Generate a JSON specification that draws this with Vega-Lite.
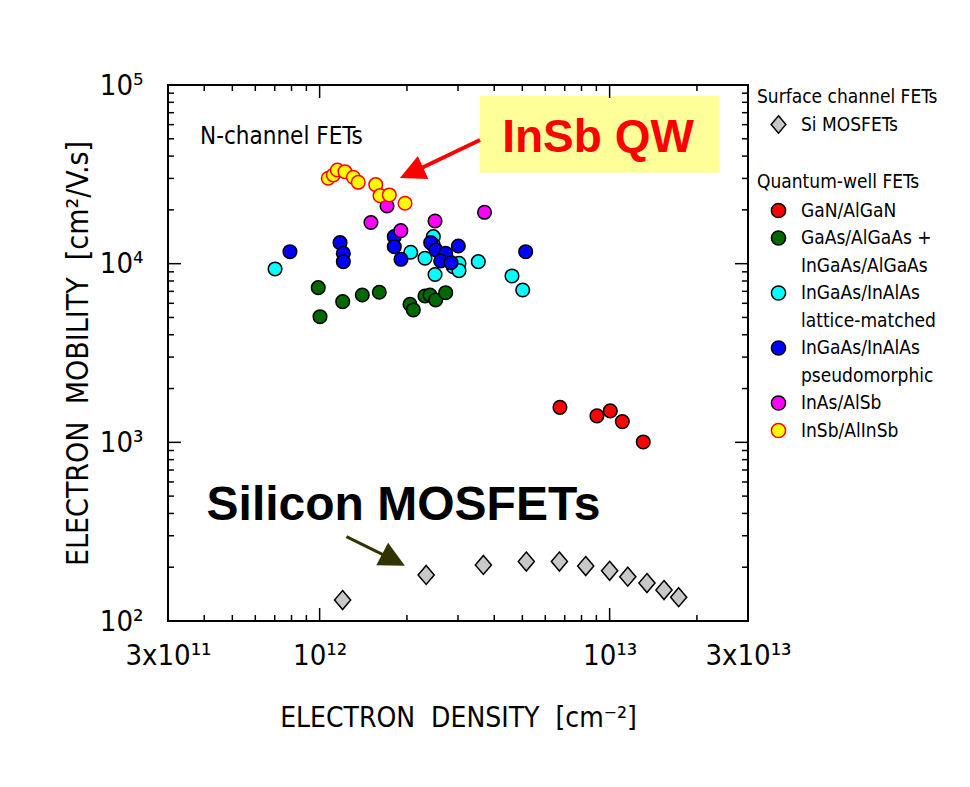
{
  "$schema": "https://vega.github.io/schema/vega-lite/v6.json",
  "width": 580,
  "height": 536,
  "autosize": "none",
  "padding": {"left": 168, "top": 85, "right": 222, "bottom": 166},
  "background": "white",
  "config": {
    "view": {"stroke": "black", "strokeWidth": 2},
    "font": "DejaVu Sans Condensed, DejaVu Sans, sans-serif",
    "axis": {"domain": false, "grid": false, "ticks": false, "tickSize": 0, "labelColor": "black", "titleColor": "black", "labelFont": "DejaVu Sans Condensed, DejaVu Sans, sans-serif", "titleFont": "DejaVu Sans Condensed, DejaVu Sans, sans-serif", "titleFontWeight": "normal", "labelOverlap": false, "labelFlush": false, "labelBound": false},
    "legend": {"orient": "right", "offset": 6, "padding": 3, "titleFont": "DejaVu Sans Condensed, DejaVu Sans, sans-serif", "titleFontSize": 19, "titleFontWeight": "normal", "titleColor": "black", "titleLimit": 300, "labelFont": "DejaVu Sans Condensed, DejaVu Sans, sans-serif", "labelFontSize": 19, "labelColor": "black", "symbolStrokeWidth": 1.5, "rowPadding": 6.5, "titlePadding": 9, "symbolOffset": 12, "labelOffset": 13, "labelLimit": 300}
  },
  "datasets": {
    "si": [
      {"type": "Si MOSFETs", "n": 1.20e12, "mu": 131},
      {"type": "Si MOSFETs", "n": 2.33e12, "mu": 181},
      {"type": "Si MOSFETs", "n": 3.67e12, "mu": 206},
      {"type": "Si MOSFETs", "n": 5.16e12, "mu": 215},
      {"type": "Si MOSFETs", "n": 6.71e12, "mu": 215},
      {"type": "Si MOSFETs", "n": 8.27e12, "mu": 203},
      {"type": "Si MOSFETs", "n": 1.00e13, "mu": 191},
      {"type": "Si MOSFETs", "n": 1.155e13, "mu": 177},
      {"type": "Si MOSFETs", "n": 1.345e13, "mu": 163},
      {"type": "Si MOSFETs", "n": 1.54e13, "mu": 149},
      {"type": "Si MOSFETs", "n": 1.73e13, "mu": 136}
    ],
    "qw": [
      {"series": "GaN/AlGaN", "n": 6.74e12, "mu": 1570},
      {"series": "GaN/AlGaN", "n": 9.04e12, "mu": 1406},
      {"series": "GaN/AlGaN", "n": 1.005e13, "mu": 1499},
      {"series": "GaN/AlGaN", "n": 1.106e13, "mu": 1306},
      {"series": "GaN/AlGaN", "n": 1.306e13, "mu": 1005},
      {"series": "GaAs/AlGaAs + InGaAs/AlGaAs", "n": 9.89e11, "mu": 7340},
      {"series": "GaAs/AlGaAs + InGaAs/AlGaAs", "n": 1.003e12, "mu": 5050},
      {"series": "GaAs/AlGaAs + InGaAs/AlGaAs", "n": 1.201e12, "mu": 6130},
      {"series": "GaAs/AlGaAs + InGaAs/AlGaAs", "n": 1.403e12, "mu": 6680},
      {"series": "GaAs/AlGaAs + InGaAs/AlGaAs", "n": 1.606e12, "mu": 6920},
      {"series": "GaAs/AlGaAs + InGaAs/AlGaAs", "n": 2.049e12, "mu": 5925},
      {"series": "GaAs/AlGaAs + InGaAs/AlGaAs", "n": 2.104e12, "mu": 5508},
      {"series": "GaAs/AlGaAs + InGaAs/AlGaAs", "n": 2.308e12, "mu": 6595},
      {"series": "GaAs/AlGaAs + InGaAs/AlGaAs", "n": 2.402e12, "mu": 6680},
      {"series": "GaAs/AlGaAs + InGaAs/AlGaAs", "n": 2.513e12, "mu": 6265},
      {"series": "GaAs/AlGaAs + InGaAs/AlGaAs", "n": 2.721e12, "mu": 6880},
      {"series": "InGaAs/InAlAs lattice-matched", "n": 7.02e11, "mu": 9340},
      {"series": "InGaAs/InAlAs lattice-matched", "n": 2.061e12, "mu": 11580},
      {"series": "InGaAs/InAlAs lattice-matched", "n": 2.308e12, "mu": 10720},
      {"series": "InGaAs/InAlAs lattice-matched", "n": 2.466e12, "mu": 14160},
      {"series": "InGaAs/InAlAs lattice-matched", "n": 2.466e12, "mu": 12720},
      {"series": "InGaAs/InAlAs lattice-matched", "n": 2.5e12, "mu": 8700},
      {"series": "InGaAs/InAlAs lattice-matched", "n": 2.89e12, "mu": 9620},
      {"series": "InGaAs/InAlAs lattice-matched", "n": 3.024e12, "mu": 10050},
      {"series": "InGaAs/InAlAs lattice-matched", "n": 3.024e12, "mu": 9140},
      {"series": "InGaAs/InAlAs lattice-matched", "n": 3.525e12, "mu": 10260},
      {"series": "InGaAs/InAlAs lattice-matched", "n": 4.606e12, "mu": 8535},
      {"series": "InGaAs/InAlAs lattice-matched", "n": 5.015e12, "mu": 7124},
      {"series": "InGaAs/InAlAs pseudomorphic", "n": 7.9e11, "mu": 11670},
      {"series": "InGaAs/InAlAs pseudomorphic", "n": 1.176e12, "mu": 13110},
      {"series": "InGaAs/InAlAs pseudomorphic", "n": 1.207e12, "mu": 11430},
      {"series": "InGaAs/InAlAs pseudomorphic", "n": 1.207e12, "mu": 10260},
      {"series": "InGaAs/InAlAs pseudomorphic", "n": 1.809e12, "mu": 14160},
      {"series": "InGaAs/InAlAs pseudomorphic", "n": 1.809e12, "mu": 12450},
      {"series": "InGaAs/InAlAs pseudomorphic", "n": 1.908e12, "mu": 10580},
      {"series": "InGaAs/InAlAs pseudomorphic", "n": 2.415e12, "mu": 13110},
      {"series": "InGaAs/InAlAs pseudomorphic", "n": 2.519e12, "mu": 11930},
      {"series": "InGaAs/InAlAs pseudomorphic", "n": 2.721e12, "mu": 11430},
      {"series": "InGaAs/InAlAs pseudomorphic", "n": 2.615e12, "mu": 10350},
      {"series": "InGaAs/InAlAs pseudomorphic", "n": 2.838e12, "mu": 10130},
      {"series": "InGaAs/InAlAs pseudomorphic", "n": 3.008e12, "mu": 12560},
      {"series": "InGaAs/InAlAs pseudomorphic", "n": 5.135e12, "mu": 11670},
      {"series": "InAs/AlSb", "n": 1.708e12, "mu": 21030},
      {"series": "InAs/AlSb", "n": 1.503e12, "mu": 17000},
      {"series": "InAs/AlSb", "n": 1.905e12, "mu": 15300},
      {"series": "InAs/AlSb", "n": 2.5e12, "mu": 17330},
      {"series": "InAs/AlSb", "n": 3.703e12, "mu": 19390},
      {"series": "InSb/AlInSb", "n": 1.071e12, "mu": 30060},
      {"series": "InSb/AlInSb", "n": 1.115e12, "mu": 31360},
      {"series": "InSb/AlInSb", "n": 1.151e12, "mu": 33450},
      {"series": "InSb/AlInSb", "n": 1.223e12, "mu": 32720},
      {"series": "InSb/AlInSb", "n": 1.307e12, "mu": 30450},
      {"series": "InSb/AlInSb", "n": 1.359e12, "mu": 28540},
      {"series": "InSb/AlInSb", "n": 1.561e12, "mu": 27680},
      {"series": "InSb/AlInSb", "n": 1.615e12, "mu": 24020},
      {"series": "InSb/AlInSb", "n": 1.739e12, "mu": 24240},
      {"series": "InSb/AlInSb", "n": 1.97e12, "mu": 21780}
    ],
    "xmajor": [{"v": 1e12}, {"v": 1e13}],
    "xminor": [{"v": 4e11}, {"v": 5e11}, {"v": 6e11}, {"v": 7e11}, {"v": 8e11}, {"v": 9e11}, {"v": 2e12}, {"v": 3e12}, {"v": 4e12}, {"v": 5e12}, {"v": 6e12}, {"v": 7e12}, {"v": 8e12}, {"v": 9e12}, {"v": 2e13}],
    "ymajor": [{"v": 1000}, {"v": 10000}],
    "yminor": [{"v": 200}, {"v": 300}, {"v": 400}, {"v": 500}, {"v": 600}, {"v": 700}, {"v": 800}, {"v": 900}, {"v": 2000}, {"v": 3000}, {"v": 4000}, {"v": 5000}, {"v": 6000}, {"v": 7000}, {"v": 8000}, {"v": 9000}, {"v": 20000}, {"v": 30000}, {"v": 40000}, {"v": 50000}, {"v": 60000}, {"v": 70000}, {"v": 80000}, {"v": 90000}],
    "box": [{"x1": 3.564e12, "x2": 2.396e13, "y1": 86790, "y2": 32300}],
    "labels": [{"x": 9.118e12, "y": 42340, "text": "InSb QW"}],
    "silabel": [{"x": 1.946e12, "y": 368, "text": "Silicon MOSFETs"}],
    "nlabel": [{"x": 3.868e11, "y": 51170, "text": "N-channel FETs"}],
    "redline": [{"x1": 3.573e12, "y1": 49230, "x2": 2.074e12, "y2": 32260}],
    "redhead": [{"x": 2.074e12, "y": 32260}],
    "oliveline": [{"x1": 1.237e12, "y1": 296.7, "x2": 1.798e12, "y2": 219.8}],
    "olivehead": [{"x": 1.798e12, "y": 219.8}]
  },
  "resolve": {"scale": {"fill": "independent", "stroke": "independent"}, "axis": {"x": "independent", "y": "independent"}, "legend": {"fill": "independent", "stroke": "independent"}},
  "layer": [
    {
      "data": {"name": "box"},
      "mark": {"type": "rect", "fill": "#ffff99"},
      "encoding": {
        "x": {"field": "x1", "type": "quantitative", "scale": {"type": "log", "domain": [3e11, 3e13], "nice": false}, "axis": null},
        "x2": {"field": "x2"},
        "y": {"field": "y1", "type": "quantitative", "scale": {"type": "log", "domain": [100, 100000], "nice": false}, "axis": null},
        "y2": {"field": "y2"}
      }
    },
    {
      "data": {"name": "xmajor"},
      "mark": {"type": "tick", "orient": "vertical", "size": 26, "thickness": 1.5, "color": "black", "opacity": 1, "clip": true},
      "encoding": {
        "x": {"field": "v", "type": "quantitative", "scale": {"type": "log", "domain": [3e11, 3e13], "nice": false}, "axis": null},
        "y": {"datum": 100, "type": "quantitative", "scale": {"type": "log", "domain": [100, 100000], "nice": false}, "axis": null}
      }
    },
    {
      "data": {"name": "xmajor"},
      "mark": {"type": "tick", "orient": "vertical", "size": 26, "thickness": 1.5, "color": "black", "opacity": 1, "clip": true},
      "encoding": {
        "x": {"field": "v", "type": "quantitative", "scale": {"type": "log", "domain": [3e11, 3e13], "nice": false}, "axis": null},
        "y": {"datum": 100000, "type": "quantitative", "scale": {"type": "log", "domain": [100, 100000], "nice": false}, "axis": null}
      }
    },
    {
      "data": {"name": "xminor"},
      "mark": {"type": "tick", "orient": "vertical", "size": 12, "thickness": 1.5, "color": "black", "opacity": 1, "clip": true},
      "encoding": {
        "x": {"field": "v", "type": "quantitative", "scale": {"type": "log", "domain": [3e11, 3e13], "nice": false}, "axis": null},
        "y": {"datum": 100, "type": "quantitative", "scale": {"type": "log", "domain": [100, 100000], "nice": false}, "axis": null}
      }
    },
    {
      "data": {"name": "xminor"},
      "mark": {"type": "tick", "orient": "vertical", "size": 12, "thickness": 1.5, "color": "black", "opacity": 1, "clip": true},
      "encoding": {
        "x": {"field": "v", "type": "quantitative", "scale": {"type": "log", "domain": [3e11, 3e13], "nice": false}, "axis": null},
        "y": {"datum": 100000, "type": "quantitative", "scale": {"type": "log", "domain": [100, 100000], "nice": false}, "axis": null}
      }
    },
    {
      "data": {"name": "ymajor"},
      "mark": {"type": "tick", "orient": "horizontal", "size": 26, "thickness": 1.5, "color": "black", "opacity": 1, "clip": true},
      "encoding": {
        "y": {"field": "v", "type": "quantitative", "scale": {"type": "log", "domain": [100, 100000], "nice": false}, "axis": null},
        "x": {"datum": 3e11, "type": "quantitative", "scale": {"type": "log", "domain": [3e11, 3e13], "nice": false}, "axis": null}
      }
    },
    {
      "data": {"name": "ymajor"},
      "mark": {"type": "tick", "orient": "horizontal", "size": 26, "thickness": 1.5, "color": "black", "opacity": 1, "clip": true},
      "encoding": {
        "y": {"field": "v", "type": "quantitative", "scale": {"type": "log", "domain": [100, 100000], "nice": false}, "axis": null},
        "x": {"datum": 3e13, "type": "quantitative", "scale": {"type": "log", "domain": [3e11, 3e13], "nice": false}, "axis": null}
      }
    },
    {
      "data": {"name": "yminor"},
      "mark": {"type": "tick", "orient": "horizontal", "size": 12, "thickness": 1.5, "color": "black", "opacity": 1, "clip": true},
      "encoding": {
        "y": {"field": "v", "type": "quantitative", "scale": {"type": "log", "domain": [100, 100000], "nice": false}, "axis": null},
        "x": {"datum": 3e11, "type": "quantitative", "scale": {"type": "log", "domain": [3e11, 3e13], "nice": false}, "axis": null}
      }
    },
    {
      "data": {"name": "yminor"},
      "mark": {"type": "tick", "orient": "horizontal", "size": 12, "thickness": 1.5, "color": "black", "opacity": 1, "clip": true},
      "encoding": {
        "y": {"field": "v", "type": "quantitative", "scale": {"type": "log", "domain": [100, 100000], "nice": false}, "axis": null},
        "x": {"datum": 3e13, "type": "quantitative", "scale": {"type": "log", "domain": [3e11, 3e13], "nice": false}, "axis": null}
      }
    },
    {
      "data": {"name": "si"},
      "mark": {"type": "point", "filled": true, "shape": "M0,-1L0.85,0L0,1L-0.85,0Z", "size": 361, "strokeWidth": 1.5, "opacity": 1},
      "encoding": {
        "x": {"field": "n", "type": "quantitative", "scale": {"type": "log", "domain": [3e11, 3e13], "nice": false},
          "axis": {"orient": "bottom", "values": [3e11, 1e12, 1e13, 3e13],
            "labelExpr": "datum.value == 3e11 ? '3x10¹¹' : datum.value == 1e12 ? '10¹²' : datum.value == 1e13 ? '10¹³' : '3x10¹³'",
            "labelFontSize": 29, "labelPadding": 20, "title": "ELECTRON\u00a0 DENSITY\u00a0 [cm⁻²]", "titleFontSize": 28, "titlePadding": 34}},
        "y": {"field": "mu", "type": "quantitative", "scale": {"type": "log", "domain": [100, 100000], "nice": false},
          "axis": {"orient": "left", "values": [100, 1000, 10000, 100000],
            "labelExpr": "datum.value == 100 ? '10²' : datum.value == 1000 ? '10³' : datum.value == 10000 ? '10⁴' : '10⁵'",
            "labelFontSize": 29, "labelPadding": 25, "title": "ELECTRON\u00a0 MOBILITY\u00a0 [cm²/V.s]", "titleFontSize": 30, "titlePadding": 6}},
        "fill": {"field": "type", "type": "nominal", "scale": {"domain": ["Si MOSFETs", "~"], "range": ["#c8c8c8", "#ffffff"]},
          "legend": {"title": "Surface channel FETs", "symbolType": "M0,-1L0.85,0L0,1L-0.85,0Z", "symbolSize": 300, "rowPadding": -14, "titlePadding": 8,
            "labelExpr": "datum.value == '~' ? '' : datum.label"}},
        "stroke": {"field": "type", "type": "nominal", "scale": {"domain": ["Si MOSFETs", "~"], "range": ["#000000", "#ffffff"]},
          "legend": {"title": "Surface channel FETs", "symbolType": "M0,-1L0.85,0L0,1L-0.85,0Z", "symbolSize": 300, "rowPadding": -14, "titlePadding": 8,
            "labelExpr": "datum.value == '~' ? '' : datum.label"}}
      }
    },
    {
      "data": {"name": "qw"},
      "mark": {"type": "point", "filled": true, "shape": "circle", "size": 185, "strokeWidth": 1.5, "opacity": 1},
      "encoding": {
        "x": {"field": "n", "type": "quantitative", "scale": {"type": "log", "domain": [3e11, 3e13], "nice": false}, "axis": null},
        "y": {"field": "mu", "type": "quantitative", "scale": {"type": "log", "domain": [100, 100000], "nice": false}, "axis": null},
        "fill": {"field": "series", "type": "nominal",
          "scale": {"domain": ["GaN/AlGaN", "GaAs/AlGaAs + InGaAs/AlGaAs", "~InGaAs/AlGaAs", "InGaAs/InAlAs lattice-matched", "~lattice-matched", "InGaAs/InAlAs pseudomorphic", "~pseudomorphic", "InAs/AlSb", "InSb/AlInSb"],
            "range": ["#ff0000", "#006a00", "#ffffff", "#00ffff", "#ffffff", "#0000ff", "#ffffff", "#ff00ff", "#ffff00"]},
          "legend": {"title": "Quantum-well FETs", "symbolType": "circle", "symbolSize": 200,
            "labelExpr": "datum.value == 'GaAs/AlGaAs + InGaAs/AlGaAs' ? 'GaAs/AlGaAs +' : datum.value == 'InGaAs/InAlAs lattice-matched' ? 'InGaAs/InAlAs' : datum.value == 'InGaAs/InAlAs pseudomorphic' ? 'InGaAs/InAlAs' : indexof(datum.value, '~') == 0 ? slice(datum.value, 1) : datum.value"}},
        "stroke": {"field": "series", "type": "nominal",
          "scale": {"domain": ["GaN/AlGaN", "GaAs/AlGaAs + InGaAs/AlGaAs", "~InGaAs/AlGaAs", "InGaAs/InAlAs lattice-matched", "~lattice-matched", "InGaAs/InAlAs pseudomorphic", "~pseudomorphic", "InAs/AlSb", "InSb/AlInSb"],
            "range": ["#000000", "#000000", "#ffffff", "#000000", "#ffffff", "#000000", "#ffffff", "#000000", "#ff0000"]},
          "legend": {"title": "Quantum-well FETs", "symbolType": "circle", "symbolSize": 200,
            "labelExpr": "datum.value == 'GaAs/AlGaAs + InGaAs/AlGaAs' ? 'GaAs/AlGaAs +' : datum.value == 'InGaAs/InAlAs lattice-matched' ? 'InGaAs/InAlAs' : datum.value == 'InGaAs/InAlAs pseudomorphic' ? 'InGaAs/InAlAs' : indexof(datum.value, '~') == 0 ? slice(datum.value, 1) : datum.value"}}
      }
    },
    {
      "data": {"name": "redline"},
      "mark": {"type": "rule", "stroke": "#ff0000", "strokeWidth": 4},
      "encoding": {
        "x": {"field": "x1", "type": "quantitative", "scale": {"type": "log", "domain": [3e11, 3e13], "nice": false}, "axis": null},
        "x2": {"field": "x2"},
        "y": {"field": "y1", "type": "quantitative", "scale": {"type": "log", "domain": [100, 100000], "nice": false}, "axis": null},
        "y2": {"field": "y2"}
      }
    },
    {
      "data": {"name": "redhead"},
      "mark": {"type": "point", "filled": true, "shape": "M0,-1L1,1L-1,1Z", "size": 650, "fill": "#ff0000", "strokeWidth": 0, "opacity": 1, "angle": 245.5},
      "encoding": {
        "x": {"field": "x", "type": "quantitative", "scale": {"type": "log", "domain": [3e11, 3e13], "nice": false}, "axis": null},
        "y": {"field": "y", "type": "quantitative", "scale": {"type": "log", "domain": [100, 100000], "nice": false}, "axis": null}
      }
    },
    {
      "data": {"name": "oliveline"},
      "mark": {"type": "rule", "stroke": "#333300", "strokeWidth": 3},
      "encoding": {
        "x": {"field": "x1", "type": "quantitative", "scale": {"type": "log", "domain": [3e11, 3e13], "nice": false}, "axis": null},
        "x2": {"field": "x2"},
        "y": {"field": "y1", "type": "quantitative", "scale": {"type": "log", "domain": [100, 100000], "nice": false}, "axis": null},
        "y2": {"field": "y2"}
      }
    },
    {
      "data": {"name": "olivehead"},
      "mark": {"type": "point", "filled": true, "shape": "M0,-1L1,1L-1,1Z", "size": 650, "fill": "#333300", "strokeWidth": 0, "opacity": 1, "angle": 117.5},
      "encoding": {
        "x": {"field": "x", "type": "quantitative", "scale": {"type": "log", "domain": [3e11, 3e13], "nice": false}, "axis": null},
        "y": {"field": "y", "type": "quantitative", "scale": {"type": "log", "domain": [100, 100000], "nice": false}, "axis": null}
      }
    },
    {
      "data": {"name": "labels"},
      "mark": {"type": "text", "font": "Liberation Sans", "fontWeight": "bold", "fontSize": 46, "fill": "#ff0000", "align": "center", "baseline": "alphabetic"},
      "encoding": {
        "x": {"field": "x", "type": "quantitative", "scale": {"type": "log", "domain": [3e11, 3e13], "nice": false}, "axis": null},
        "y": {"field": "y", "type": "quantitative", "scale": {"type": "log", "domain": [100, 100000], "nice": false}, "axis": null},
        "text": {"field": "text"}
      }
    },
    {
      "data": {"name": "silabel"},
      "mark": {"type": "text", "font": "Liberation Sans", "fontWeight": "bold", "fontSize": 48, "fill": "black", "align": "center", "baseline": "alphabetic"},
      "encoding": {
        "x": {"field": "x", "type": "quantitative", "scale": {"type": "log", "domain": [3e11, 3e13], "nice": false}, "axis": null},
        "y": {"field": "y", "type": "quantitative", "scale": {"type": "log", "domain": [100, 100000], "nice": false}, "axis": null},
        "text": {"field": "text"}
      }
    },
    {
      "data": {"name": "nlabel"},
      "mark": {"type": "text", "font": "DejaVu Sans Condensed, DejaVu Sans, sans-serif", "fontSize": 24, "fill": "black", "align": "left", "baseline": "middle"},
      "encoding": {
        "x": {"field": "x", "type": "quantitative", "scale": {"type": "log", "domain": [3e11, 3e13], "nice": false}, "axis": null},
        "y": {"field": "y", "type": "quantitative", "scale": {"type": "log", "domain": [100, 100000], "nice": false}, "axis": null},
        "text": {"field": "text"}
      }
    }
  ]
}
